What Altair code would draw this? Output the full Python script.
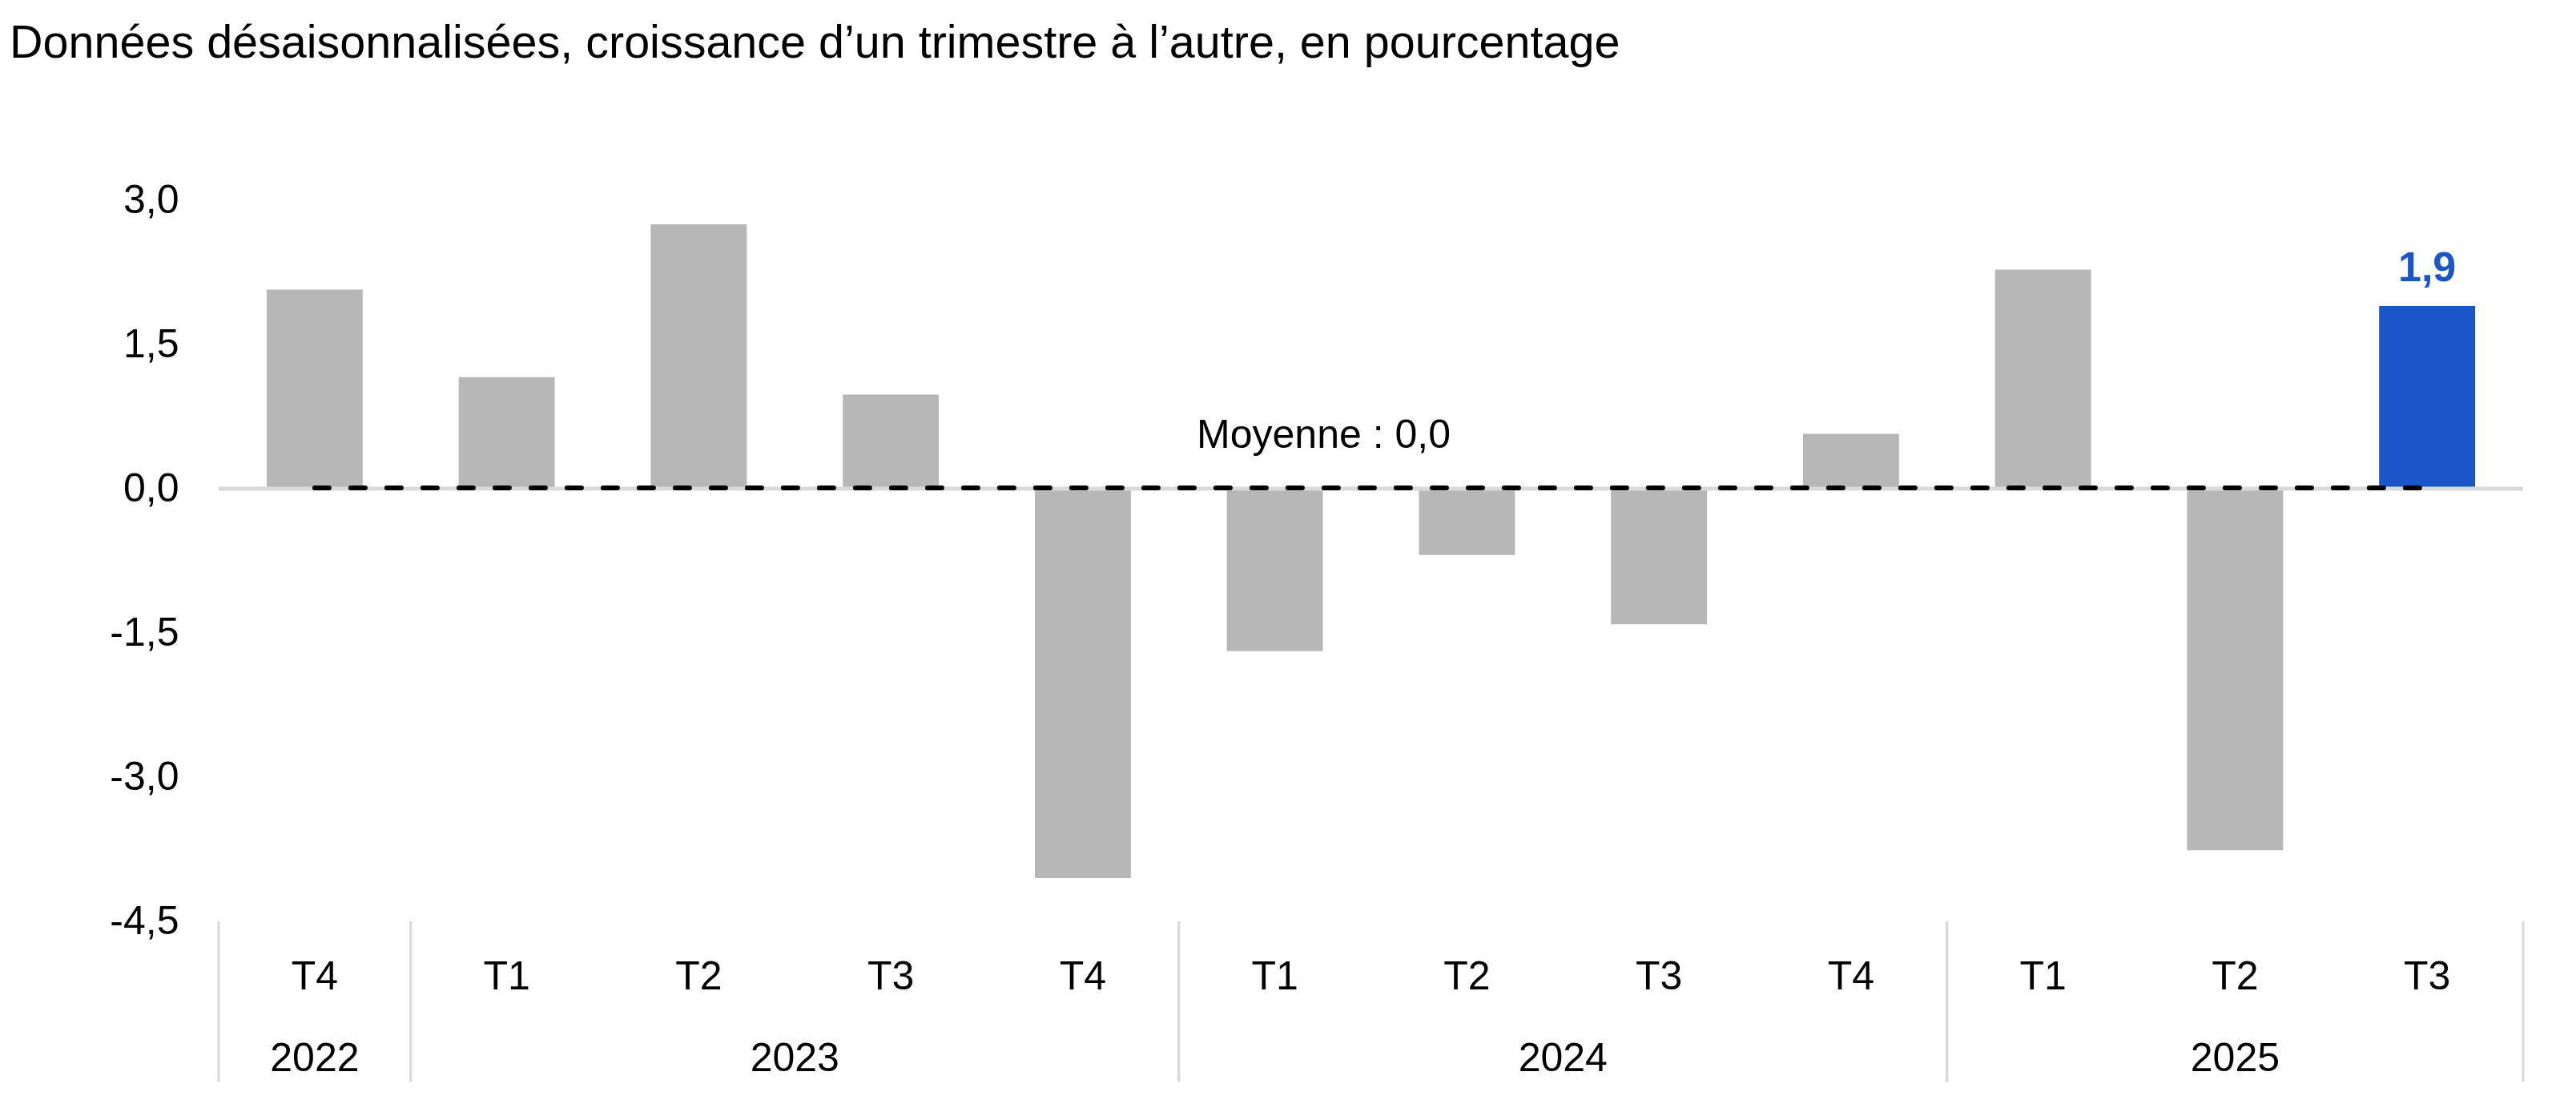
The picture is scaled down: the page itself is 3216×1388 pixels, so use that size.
import altair as alt
import pandas as pd

# ---- data ----
quarters = ["T4", "T1", "T2", "T3", "T4", "T1", "T2", "T3", "T4", "T1", "T2", "T3"]
years = ["2022", "2023", "2023", "2023", "2023", "2024", "2024", "2024", "2024", "2025", "2025", "2025"]
values = [2.07, 1.16, 2.75, 0.98, -4.05, -1.69, -0.69, -1.41, 0.57, 2.28, -3.76, 1.9]
highlight = [False] * 11 + [True]
y_ticks = [-4.5, -3.0, -1.5, 0.0, 1.5, 3.0]
title_text = "Données désaisonnalisées, croissance d’un trimestre à l’autre, en pourcentage"

df = pd.DataFrame({
    "idx": list(range(len(values))),
    "trimestre": quarters,
    "annee": years,
    "valeur": values,
    "dernier": highlight,
})

FONT = "Liberation Sans"
GRAY = "#b7b7b7"
BLUE = "#1a56c8"
LIGHT = "#d9d9d9"
N = len(values)

xscale = alt.Scale(domain=[0, N], nice=False, zero=False)
yscale = alt.Scale(domain=[-4.5, 3.0], nice=False)

fmt = "(X < 0 ? '-' : '') + replace(format(abs(X), '.1f'), '.', ',')"

yaxis = alt.Axis(
    values=y_ticks,
    labelExpr=fmt.replace("X", "datum.value"),
    labelFont=FONT,
    labelFontSize=50,
    labelColor="black",
    labelPadding=50,
    ticks=False,
    domain=False,
    grid=False,
    title=None,
)

base = alt.Chart(df).transform_calculate(
    x0="datum.idx + 0.25", x1="datum.idx + 0.75", xc="datum.idx + 0.5"
)

bars = base.mark_rect().encode(
    x=alt.X("x0:Q", scale=xscale, axis=None),
    x2="x1:Q",
    y=alt.Y("valeur:Q", scale=yscale, axis=yaxis),
    y2=alt.datum(0),
    color=alt.condition("datum.dernier", alt.value(BLUE), alt.value(GRAY)),
)

zero_line = base.transform_aggregate(lo="min(idx)", hi="max(idx)").transform_calculate(
    a="datum.lo", b="datum.hi + 1"
).mark_rule(color=LIGHT, strokeWidth=5).encode(
    x=alt.X("a:Q", scale=xscale, axis=None),
    x2="b:Q",
    y=alt.datum(0),
)

mean_base = base.transform_aggregate(
    moy="mean(valeur)", xa="min(xc)", xb="max(xc)"
).transform_calculate(
    mid="(datum.xa + datum.xb) / 2",
    lab="'Moyenne : ' + " + fmt.replace("X", "datum.moy"),
)

mean_line = mean_base.mark_rule(
    color="black", strokeWidth=6, strokeDash=[18, 27], strokeCap="round"
).encode(
    x=alt.X("xa:Q", scale=xscale, axis=None),
    x2="xb:Q",
    y=alt.Y("moy:Q", scale=yscale, axis=yaxis),
)

mean_text = mean_base.mark_text(
    font=FONT, fontSize=50, color="black", baseline="alphabetic", align="center", dx=-59, dy=-50
).encode(
    x=alt.X("mid:Q", scale=xscale, axis=None),
    y=alt.Y("moy:Q", scale=yscale, axis=yaxis),
    text="lab:N",
)

last_label = base.transform_filter("datum.dernier").transform_calculate(
    lab=fmt.replace("X", "datum.valeur")
).mark_text(
    font=FONT, fontSize=52, fontWeight="bold", color=BLUE, baseline="alphabetic", align="center", dy=-31
).encode(
    x=alt.X("xc:Q", scale=xscale, axis=None),
    y=alt.Y("valeur:Q", scale=yscale, axis=yaxis),
    text="lab:N",
)

q_labels = base.mark_text(
    font=FONT, fontSize=50, color="black", baseline="alphabetic", align="center"
).encode(
    x=alt.X("xc:Q", scale=xscale, axis=None),
    y=alt.value(985),
    text="trimestre:N",
)

y_labels = base.transform_aggregate(xm="mean(xc)", groupby=["annee"]).mark_text(
    font=FONT, fontSize=50, color="black", baseline="alphabetic", align="center"
).encode(
    x=alt.X("xm:Q", scale=xscale, axis=None),
    y=alt.value(1087),
    text="annee:N",
)

separators = base.transform_calculate(s="datum.idx", e="datum.idx + 1").transform_aggregate(
    a="min(s)", b="max(e)", groupby=["annee"]
).transform_fold(["a", "b"], as_=["k", "pos"]).mark_rule(color=LIGHT, strokeWidth=3).encode(
    x=alt.X("pos:Q", scale=xscale, axis=None),
    y=alt.value(900),
    y2=alt.value(1100),
)

chart = alt.layer(
    bars, zero_line, mean_line, mean_text, last_label, q_labels, y_labels, separators
).properties(
    width=2877,
    height=900,
    autosize="none",
    padding={"left": 265, "top": 242, "right": 50, "bottom": 220},
    title=alt.TitleParams(
        text=title_text,
        anchor="start",
        frame="group",
        font=FONT,
        fontSize=57.5,
        fontWeight="normal",
        color="black",
        baseline="alphabetic",
        dx=-261,
        offset=96,
    ),
    background="white",
).configure_view(stroke=None)

chart.save("out.html", embed_options={"renderer": "svg", "actions": False})
